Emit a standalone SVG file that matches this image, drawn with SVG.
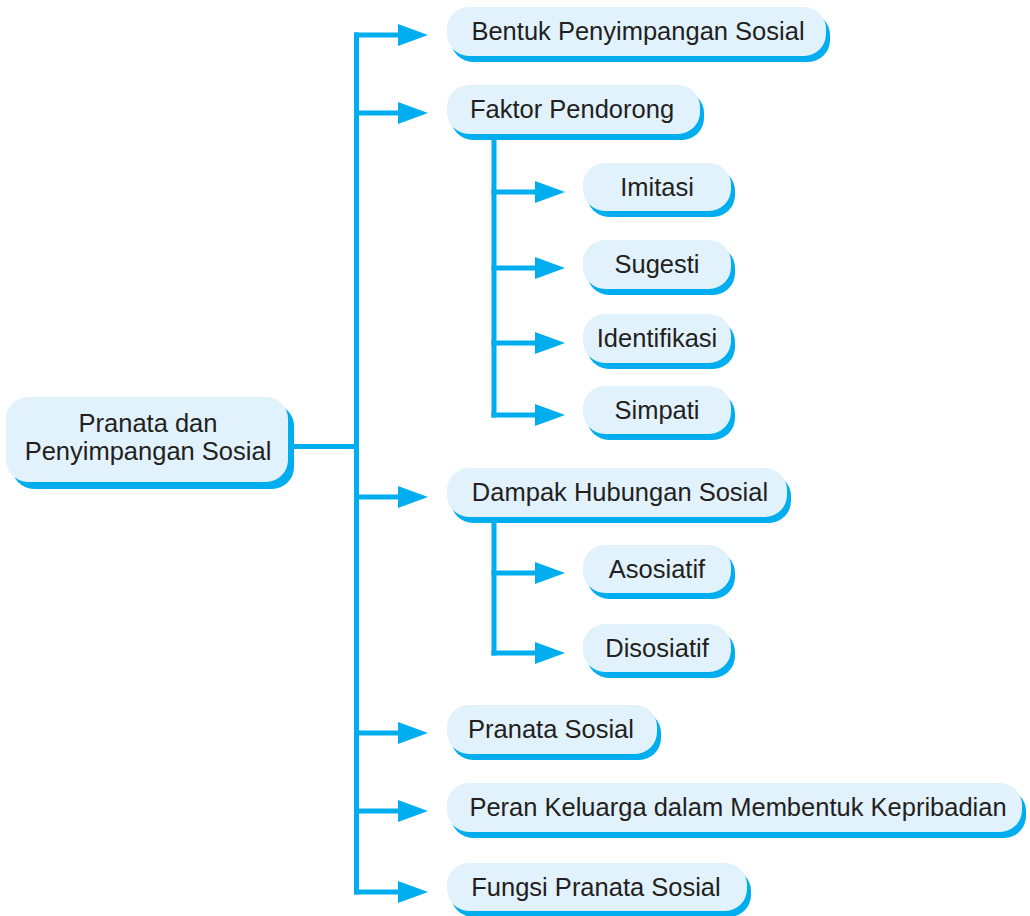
<svg xmlns="http://www.w3.org/2000/svg" width="1030" height="916" viewBox="0 0 1030 916">
<style>
.box{fill:#E1F2FC}
.sh{fill:#00AEEF}
.t{font-family:"Liberation Sans",Arial,sans-serif;font-size:25.5px;fill:#231F20;text-anchor:middle}
.ln{fill:none;stroke:#00AEEF;stroke-width:5;stroke-linejoin:miter}
</style>
<defs>
<marker id="ah" viewBox="0 0 30 22" refX="2" refY="11" markerWidth="30" markerHeight="22" markerUnits="userSpaceOnUse" orient="auto">
<path d="M0,0 L30,11 L0,22 Z" fill="#00AEEF"/>
</marker>
</defs>
<rect width="1030" height="916" fill="#FFFFFF"/>
<g id="connectors">
<path class="ln" d="M288,446.5 H356.5"/>
<path class="ln" d="M356.5,32.5 V894.5"/>
<path class="ln" d="M354,35 H400" marker-end="url(#ah)"/>
<path class="ln" d="M354,113 H400" marker-end="url(#ah)"/>
<path class="ln" d="M354,497 H400" marker-end="url(#ah)"/>
<path class="ln" d="M354,733 H400" marker-end="url(#ah)"/>
<path class="ln" d="M354,811 H400" marker-end="url(#ah)"/>
<path class="ln" d="M354,892 H400" marker-end="url(#ah)"/>
<path class="ln" d="M494,134 V417.5"/>
<path class="ln" d="M491.5,192 H537" marker-end="url(#ah)"/>
<path class="ln" d="M491.5,268 H537" marker-end="url(#ah)"/>
<path class="ln" d="M491.5,343 H537" marker-end="url(#ah)"/>
<path class="ln" d="M491.5,415 H537" marker-end="url(#ah)"/>
<path class="ln" d="M494,516 V655.5"/>
<path class="ln" d="M491.5,573 H537" marker-end="url(#ah)"/>
<path class="ln" d="M491.5,653 H537" marker-end="url(#ah)"/>
</g>
<g id="root">
<rect class="sh" x="12" y="404" width="282" height="85" rx="22"/>
<rect class="box" x="6" y="397" width="282" height="85" rx="22"/>
<text class="t" x="148" y="432">Pranata dan</text>
<text class="t" x="148" y="460">Penyimpangan Sosial</text>
</g>
<g id="bentuk">
<rect class="sh" x="451" y="13" width="379" height="49" rx="22"/>
<rect class="box" x="447" y="7" width="379" height="49" rx="22"/>
<text class="t" x="638" y="40">Bentuk Penyimpangan Sosial</text>
</g>
<g id="faktor">
<rect class="sh" x="451" y="91" width="253" height="49" rx="22"/>
<rect class="box" x="447" y="85" width="253" height="49" rx="22"/>
<text class="t" x="572" y="118">Faktor Pendorong</text>
</g>
<g id="imitasi">
<rect class="sh" x="587" y="169" width="148" height="48" rx="22"/>
<rect class="box" x="583" y="163" width="148" height="48" rx="22"/>
<text class="t" x="657" y="195.5">Imitasi</text>
</g>
<g id="sugesti">
<rect class="sh" x="587" y="246" width="148" height="49" rx="22"/>
<rect class="box" x="583" y="240" width="148" height="49" rx="22"/>
<text class="t" x="657" y="273">Sugesti</text>
</g>
<g id="identifikasi">
<rect class="sh" x="587" y="320" width="148" height="49" rx="22"/>
<rect class="box" x="583" y="314" width="148" height="49" rx="22"/>
<text class="t" x="657" y="347">Identifikasi</text>
</g>
<g id="simpati">
<rect class="sh" x="587" y="392" width="148" height="48" rx="22"/>
<rect class="box" x="583" y="386" width="148" height="48" rx="22"/>
<text class="t" x="657" y="419">Simpati</text>
</g>
<g id="dampak">
<rect class="sh" x="451" y="474" width="340" height="49" rx="22"/>
<rect class="box" x="447" y="468" width="340" height="49" rx="22"/>
<text class="t" x="620" y="501">Dampak Hubungan Sosial</text>
</g>
<g id="asosiatif">
<rect class="sh" x="587" y="551" width="148" height="48" rx="22"/>
<rect class="box" x="583" y="545" width="148" height="48" rx="22"/>
<text class="t" x="657" y="578">Asosiatif</text>
</g>
<g id="disosiatif">
<rect class="sh" x="587" y="630" width="148" height="48" rx="22"/>
<rect class="box" x="583" y="624" width="148" height="48" rx="22"/>
<text class="t" x="657" y="656.5">Disosiatif</text>
</g>
<g id="pranata-sosial">
<rect class="sh" x="451" y="711" width="210" height="49" rx="22"/>
<rect class="box" x="447" y="705" width="210" height="49" rx="22"/>
<text class="t" x="551" y="738">Pranata Sosial</text>
</g>
<g id="peran">
<rect class="sh" x="451" y="789" width="575" height="49" rx="22"/>
<rect class="box" x="447" y="783" width="575" height="49" rx="22"/>
<text class="t" x="738" y="816">Peran Keluarga dalam Membentuk Kepribadian</text>
</g>
<g id="fungsi">
<rect class="sh" x="451" y="869" width="300" height="48" rx="22"/>
<rect class="box" x="447" y="863" width="300" height="48" rx="22"/>
<text class="t" x="596" y="896">Fungsi Pranata Sosial</text>
</g>
</svg>
